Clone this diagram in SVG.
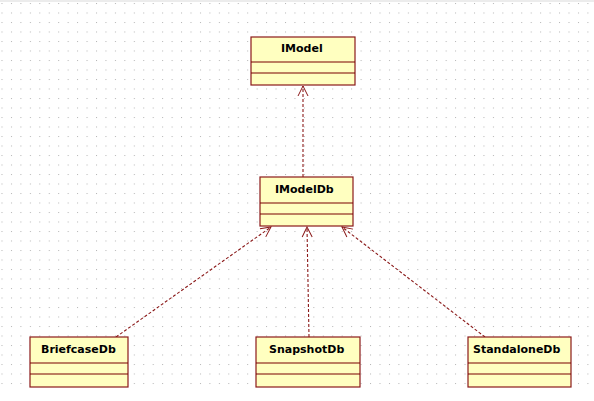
<svg xmlns="http://www.w3.org/2000/svg" width="594" height="401" viewBox="0 0 594 401">
<defs>
<pattern id="grid" patternUnits="userSpaceOnUse" x="1.5" y="3" width="9.45" height="9.5">
<rect x="0" y="0" width="1" height="1" fill="#b4b4b4"/>
</pattern>
<marker id="open" viewBox="0 0 12 12" refX="11" refY="6" markerWidth="12" markerHeight="12" markerUnits="userSpaceOnUse" orient="auto">
<path d="M1,1 L11,6 L1,11" fill="none" stroke="#8b1a1a" stroke-width="1"/>
</marker>
<style>
.box{fill:#ffffc0;stroke:#8b1a1a;stroke-width:1.2}
.div{stroke:#7a0000;stroke-width:1.2}
.lbl{font-family:"DejaVu Sans",sans-serif;font-weight:bold;font-size:11px;fill:#000}
.dep{fill:none;stroke:#8b1a1a;stroke-width:1.1;stroke-dasharray:3 2;marker-end:url(#open)}
</style>
</defs>
<rect width="594" height="401" fill="#fff"/>
<rect x="0" y="0" width="594" height="2" fill="#ececec"/>
<rect x="0" y="0" width="594" height="392" fill="url(#grid)"/>
<g id="connectors">
<line class="dep" x1="303" y1="177" x2="303" y2="86"/>
<line class="dep" x1="116" y1="337" x2="271" y2="227"/>
<line class="dep" x1="309" y1="337" x2="307" y2="227"/>
<line class="dep" x1="485" y1="337" x2="342" y2="227"/>
</g>
<g id="IModel">
<rect class="box" x="251" y="37" width="104" height="48"/>
<line class="div" x1="251" y1="62" x2="355" y2="62"/>
<line class="div" x1="251" y1="73" x2="355" y2="73"/>
<text class="lbl" x="281" y="52">IModel</text>
</g>
<g id="IModelDb">
<rect class="box" x="260" y="177" width="93" height="49"/>
<line class="div" x1="260" y1="203" x2="353" y2="203"/>
<line class="div" x1="260" y1="214" x2="353" y2="214"/>
<text class="lbl" x="275" y="193">IModelDb</text>
</g>
<g id="BriefcaseDb">
<rect class="box" x="30" y="337" width="98" height="50"/>
<line class="div" x1="30" y1="363" x2="128" y2="363"/>
<line class="div" x1="30" y1="374" x2="128" y2="374"/>
<text class="lbl" x="41" y="353">BriefcaseDb</text>
</g>
<g id="SnapshotDb">
<rect class="box" x="256" y="337" width="104" height="50"/>
<line class="div" x1="256" y1="363" x2="360" y2="363"/>
<line class="div" x1="256" y1="374" x2="360" y2="374"/>
<text class="lbl" x="269" y="353">SnapshotDb</text>
</g>
<g id="StandaloneDb">
<rect class="box" x="468" y="337" width="103" height="50"/>
<line class="div" x1="468" y1="363" x2="571" y2="363"/>
<line class="div" x1="468" y1="374" x2="571" y2="374"/>
<text class="lbl" x="473" y="353">StandaloneDb</text>
</g>
</svg>
